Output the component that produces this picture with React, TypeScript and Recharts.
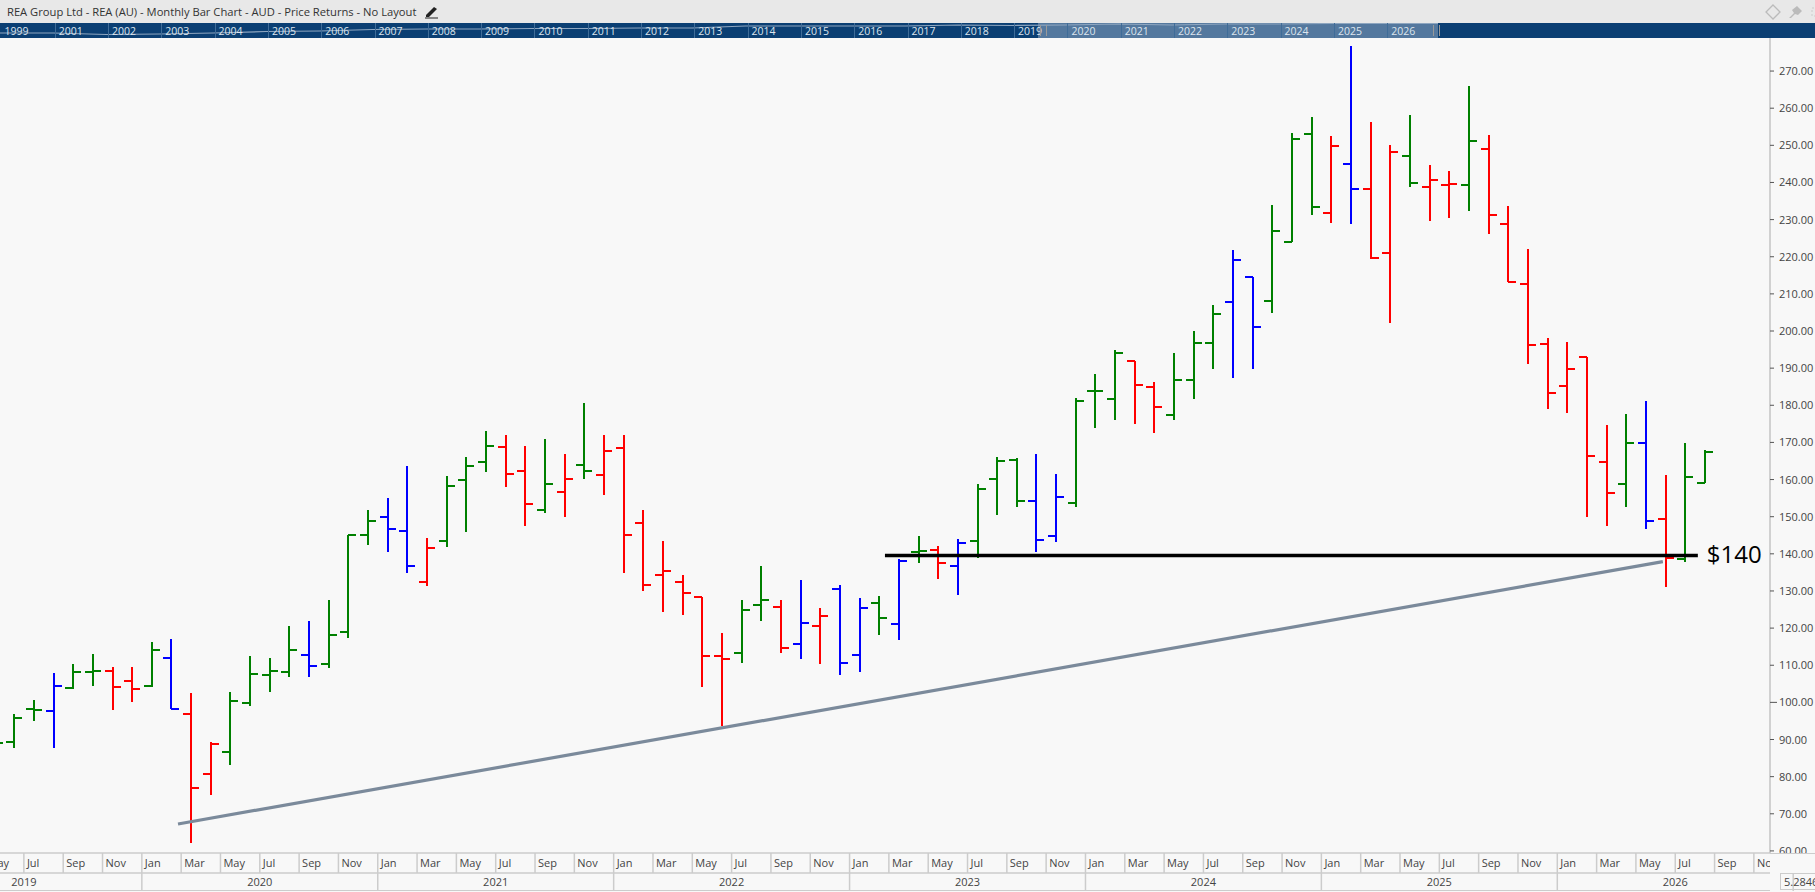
import React from 'react';
import { ComposedChart, LineChart, Line, Bar, XAxis, YAxis, ReferenceLine, ReferenceDot } from 'recharts';

// Monthly bars, May 2019 to Aug 2026
const opens = [
  88.8, 89.2, 98.2, 97.8, 103.9, 108.3, 108.4, 105.8,
  104.4, 112.0, 97.0, 80.8, 86.7, 99.7, 107.5, 108.3, 112.8, 110.4, 119.0, 145.2,
  150.0, 146.2, 132.5, 143.4, 160.0, 164.8, 168.8, 162.4, 151.9, 156.7, 164.0, 161.3,
  168.6, 148.4, 134.4, 132.5, 128.3, 112.6, 113.4, 126.3, 125.8, 115.8, 120.6, 130.6,
  112.8, 126.8, 121.2, 140.6, 141.1, 136.8, 143.5, 160.1, 165.3, 154.2, 144.8, 153.7,
  183.8, 181.7, 192.0, 185.0, 177.5, 186.9, 196.9, 207.9, 214.6, 208.2, 224.0, 253.1,
  231.9, 245.0, 238.3, 221.1, 247.2, 238.9, 239.4, 239.4, 249.1, 228.9, 212.7, 196.6,
  185.3, 193.1, 164.8, 158.9, 169.9, 149.5, 138.7, 159.2,
];
const highs = [
  90.5, 97.0, 100.6, 107.8, 110.2, 112.9, 109.4, 109.4,
  116.2, 117.0, 102.4, 89.4, 102.7, 112.4, 111.9, 120.7, 121.8, 127.5, 145.2, 151.7,
  155.0, 163.6, 144.2, 160.9, 166.2, 173.0, 171.9, 169.0, 170.8, 166.8, 180.5, 171.9,
  171.9, 151.7, 143.4, 134.2, 128.3, 118.6, 127.7, 136.6, 127.7, 132.9, 125.3, 131.5,
  128.0, 128.6, 138.5, 144.7, 142.0, 143.9, 158.7, 166.0, 165.7, 166.8, 161.4, 181.9,
  188.3, 194.8, 192.0, 186.4, 194.0, 199.9, 206.9, 221.8, 214.6, 233.8, 253.2, 257.5,
  252.4, 276.7, 256.4, 250.0, 258.3, 244.6, 243.0, 265.9, 252.9, 233.6, 222.0, 198.0,
  197.0, 193.1, 174.6, 177.6, 181.1, 161.1, 169.8, 167.9,
];
const lows = [
  86.5, 87.6, 95.1, 87.8, 103.5, 104.5, 98.0, 100.2,
  104.1, 98.1, 62.0, 75.1, 83.2, 99.1, 102.9, 106.9, 106.7, 109.3, 117.4, 142.5,
  140.6, 134.9, 131.4, 141.9, 146.0, 161.9, 158.1, 147.6, 151.1, 150.0, 160.2, 155.9,
  134.9, 130.1, 124.4, 123.6, 104.2, 93.7, 110.7, 122.0, 113.4, 111.8, 110.4, 107.5,
  108.3, 118.2, 116.9, 137.6, 133.3, 129.0, 139.0, 150.5, 152.7, 140.6, 143.3, 152.7,
  174.0, 176.1, 175.0, 172.6, 176.1, 181.8, 189.9, 187.4, 189.9, 204.9, 224.0, 231.3,
  229.2, 228.9, 219.4, 202.2, 238.9, 229.7, 230.5, 232.4, 226.2, 213.3, 191.2, 179.1,
  177.8, 150.0, 147.6, 152.7, 146.8, 131.2, 137.9, 159.0,
];
const closes = [
  89.0, 95.9, 97.9, 104.5, 108.2, 108.5, 104.2, 103.7,
  114.2, 98.2, 77.0, 88.9, 100.5, 107.7, 108.5, 114.2, 109.9, 118.2, 145.2, 148.9,
  146.8, 136.8, 141.6, 158.3, 163.7, 169.1, 161.5, 153.5, 158.8, 160.2, 162.4, 167.8,
  145.2, 131.7, 135.5, 129.5, 112.6, 111.8, 125.0, 127.7, 114.7, 121.5, 123.3, 110.7,
  125.5, 122.8, 138.2, 140.8, 137.6, 143.0, 157.4, 165.0, 154.2, 143.7, 155.3, 181.1,
  183.9, 194.2, 185.5, 179.6, 186.9, 196.9, 204.6, 219.2, 201.2, 227.0, 251.8, 233.5,
  249.9, 238.3, 219.7, 248.3, 239.9, 240.7, 239.6, 251.2, 231.3, 213.3, 196.1, 183.4,
  189.9, 166.4, 156.5, 169.9, 148.9, 139.0, 160.8, 167.3,
];
const signals = [
  'g', 'g', 'g', 'b', 'g', 'g', 'r', 'r',
  'g', 'b', 'r', 'r', 'g', 'g', 'g', 'g', 'b', 'g', 'g', 'g',
  'b', 'b', 'r', 'g', 'g', 'g', 'r', 'r', 'g', 'r', 'g', 'r',
  'r', 'r', 'r', 'r', 'r', 'r', 'g', 'g', 'r', 'b', 'r', 'b',
  'b', 'g', 'b', 'g', 'r', 'b', 'g', 'g', 'g', 'b', 'b', 'g',
  'g', 'g', 'r', 'r', 'g', 'g', 'g', 'b', 'b', 'g', 'g', 'g',
  'r', 'b', 'r', 'r', 'g', 'r', 'r', 'g', 'r', 'r', 'r', 'r',
  'r', 'r', 'r', 'g', 'b', 'r', 'g', 'g',
];
const priceTicks = [60, 70, 80, 90, 100, 110, 120, 130, 140, 150, 160, 170, 180, 190, 200, 210, 220, 230, 240, 250, 260, 270];
const monthNames = ['Jan', 'Feb', 'Mar', 'Apr', 'May', 'Jun', 'Jul', 'Aug', 'Sep', 'Oct', 'Nov', 'Dec'];
const oddMonthsFrom2019 = [4, 6, 8, 10, 12, 14, 16, 18, 20, 22, 24, 26, 28, 30, 32, 34, 36, 38, 40, 42, 44, 46, 48, 50, 52, 54, 56, 58, 60, 62, 64, 66, 68, 70, 72, 74, 76, 78, 80, 82, 84, 86, 88, 90, 92, 94];
const years = [2019, 2020, 2021, 2022, 2023, 2024, 2025, 2026];
const navYears = [1999, 2001, 2002, 2003, 2004, 2005, 2006, 2007, 2008, 2009, 2010, 2011, 2012, 2013, 2014, 2015, 2016, 2017, 2018, 2019, 2020, 2021, 2022, 2023, 2024, 2025, 2026];
const navLine = [5, 5, 3.5, 4, 5, 6.5, 7, 8.5, 9, 9, 9.5, 9.5, 10, 10, 12, 12, 12, 12, 13, 12.5, 13, 14, 13, 14, 14, 14.5, 14.5, 14.5];

const FONT = '"Open Sans", sans-serif';
const BG = '#f8f8f8';
const GRID = '#cccccc';
const SIGNAL_COLOR = { g: '#008000', r: '#ff0000', b: '#0000ff' };
const FIRST_MONTH = 4; // May 2019, months counted from Jan 2019
const X_DOMAIN = [4.285, 94.32];
const Y_DOMAIN = [59.44, 278.9];

const tableData = opens.map((open, i) => ({
  idx: FIRST_MONTH + i,
  open,
  high: highs[i],
  low: lows[i],
  close: closes[i],
  signal: signals[i],
  range: [lows[i], highs[i]],
}));

const navData = navLine.map((v, i) => ({ i, v }));

// open tick on the left, close tick on the right, stem from the range bar geometry
const OhlcBar = (props: any) => {
  const { x, y, width, height, payload } = props;
  const cx = x + width / 2;
  const top = Math.min(y, y + height);
  const h = Math.abs(height);
  const toY = (v: number) => top + ((payload.high - v) / (payload.high - payload.low)) * h;
  const color = SIGNAL_COLOR[payload.signal];
  return (
    <g stroke={color} strokeWidth={2} fill="none" shapeRendering="crispEdges">
      <line x1={cx} x2={cx} y1={top} y2={top + h} />
      <line x1={cx - 8} x2={cx} y1={toY(payload.open)} y2={toY(payload.open)} />
      <line x1={cx} x2={cx + 8} y1={toY(payload.close)} y2={toY(payload.close)} />
    </g>
  );
};

const PriceTick = (props: any) => {
  const { x, y, payload } = props;
  const long = payload.value === 100;
  return (
    <g clipPath="url(#priceClip)">
      <line x1={x} x2={x + (long ? 7 : 4)} y1={y} y2={y} stroke="#555" />
      <text x={x + 9} y={y + 4} fontSize={11} fontFamily={FONT} fill="#444">{payload.value.toFixed(2)}</text>
    </g>
  );
};

const MonthTick = (props: any) => {
  const { x, y, payload } = props;
  const month = monthNames[(payload.value + 0.5) % 12];
  return (
    <g clipPath="url(#monthClip)">
      <line x1={x} x2={x} y1={y} y2={y + 20} stroke={GRID} strokeWidth={1.5} />
      <text x={x + 3} y={y + 14} fontSize={11} fontFamily={FONT} fill="#444">{month}</text>
    </g>
  );
};

const YearTick = (props: any) => {
  const { x, y, payload } = props;
  if ((payload.value + 0.5) % 12 === 0) {
    return <line x1={x} x2={x} y1={y} y2={y + 18} stroke={GRID} strokeWidth={1.5} />;
  }
  return (
    <text x={x} y={y + 13} textAnchor="middle" fontSize={11} fontFamily={FONT} fill="#444">
      {2019 + Math.floor(payload.value / 12)}
    </text>
  );
};

const yearTicks = years.flatMap((year) => {
  const start = (year - 2019) * 12;
  return [start + 5.5, start + 11.5];
});

const Header = () => (
  <div style={{ position: 'absolute', left: 0, top: 0, width: 1815, height: 23, background: '#e8e8e8' }}>
    <span style={{ position: 'absolute', left: 7, top: 4, fontFamily: FONT, fontSize: 11.2, color: '#333', whiteSpace: 'nowrap' }}>
      REA Group Ltd - REA (AU) - Monthly Bar Chart - AUD - Price Returns - No Layout
    </span>
    <svg style={{ position: 'absolute', left: 424, top: 4 }} width={15} height={15}>
      <path d="M2 11 L10 3 L13 5 L5 13 L2 13 Z" fill="#222" />
      <line x1={1} x2={14} y1={14} y2={14} stroke="#222" />
    </svg>
    <svg style={{ position: 'absolute', left: 1765, top: 3 }} width={50} height={18}>
      <path d="M8 2 L15 9 L8 16 L1 9 Z" fill="none" stroke="#bbb" strokeWidth={1.3} />
      <path d="M24 15 L29 10 L27 7 L32 3 L37 8 L33 12 L30 11 L26 15 Z" fill="#bbb" />
      <rect x={47} y={5} width={6} height={8} fill="none" stroke="#ccc" strokeDasharray="2 2" />
    </svg>
  </div>
);

const Navigator = () => (
  <div style={{ position: 'absolute', left: 0, top: 23, width: 1815, height: 15, background: '#0b3f73', overflow: 'hidden' }}>
    <div style={{ position: 'absolute', left: 1038, top: 0, width: 400, height: 15, background: '#54789e' }} />
    <div style={{ position: 'absolute', left: 0, top: 0 }}>
      <LineChart width={1438} height={15} data={navData} margin={{ top: 0, right: 0, bottom: 0, left: 0 }}>
        <XAxis dataKey="i" hide />
        <YAxis hide domain={[0, 15]} />
        <Line dataKey="v" stroke="#8ea6c0" strokeWidth={1.2} dot={false} isAnimationActive={false} />
      </LineChart>
    </div>
    {navYears.map((year, i) => (
      <div
        key={year}
        style={{
          position: 'absolute',
          left: 1.4 + i * 53.3,
          top: 0,
          height: 15,
          paddingLeft: 3,
          borderLeft: i === 0 ? 'none' : '1px solid #3f6c98',
          fontFamily: FONT,
          fontSize: 10.5,
          lineHeight: '16px',
          color: '#dde5ee',
        }}
      >
        {year}
      </div>
    ))}
    {[1040, 1433].map((left) => (
      <div key={left} style={{ position: 'absolute', left, top: 2, width: 5, height: 11, borderLeft: '1px solid #999', borderRight: '1px solid #999' }} />
    ))}
  </div>
);

export default function App() {
  return (
    <div style={{ position: 'absolute', left: 0, top: 0, width: 1815, height: 892, background: BG, overflow: 'hidden' }}>
      <Header />
      <Navigator />
      <div style={{ position: 'absolute', left: 0, top: 38 }}>
        <ComposedChart
          width={1815}
          height={854}
          data={tableData}
          margin={{ top: 0, right: 0, bottom: 1, left: 0 }}
        >
          <defs>
            <clipPath id="priceClip">
              <rect x={1765} y={0} width={50} height={815} />
            </clipPath>
            <clipPath id="monthClip">
              <rect x={0} y={800} width={1770} height={60} />
            </clipPath>
          </defs>
          <XAxis
            xAxisId="months"
            dataKey="idx"
            type="number"
            domain={X_DOMAIN}
            allowDataOverflow
            ticks={oddMonthsFrom2019.map((m) => m - 0.5)}
            interval={0}
            height={20}
            tickSize={0}
            tickMargin={0}
            tick={MonthTick}
            tickLine={false}
            axisLine={{ stroke: GRID, strokeWidth: 1.5 }}
          />
          <XAxis
            xAxisId="years"
            dataKey="idx"
            type="number"
            domain={X_DOMAIN}
            allowDataOverflow
            ticks={yearTicks}
            interval={0}
            height={18}
            tickSize={0}
            tickMargin={0}
            tick={YearTick}
            tickLine={false}
            axisLine={{ stroke: GRID, strokeWidth: 1.5 }}
          />
          <YAxis
            orientation="right"
            width={45}
            domain={Y_DOMAIN}
            allowDataOverflow
            ticks={priceTicks}
            interval={0}
            tickSize={0}
            tickMargin={0}
            tick={PriceTick}
            tickLine={false}
            axisLine={{ stroke: '#c4c4c4', strokeWidth: 1.5 }}
          />
          <Bar xAxisId="months" dataKey="range" barSize={2} shape={OhlcBar} isAnimationActive={false} />
          <ReferenceLine
            xAxisId="months"
            segment={[{ x: 13.34, y: 67.25 }, { x: 88.87, y: 137.9 }]}
            stroke="#7b8a9b"
            strokeWidth={3.2}
          />
          <ReferenceLine
            xAxisId="months"
            segment={[{ x: 49.3, y: 139.55 }, { x: 90.65, y: 139.55 }]}
            stroke="#000"
            strokeWidth={3.4}
          />
          <ReferenceDot
            xAxisId="months"
            x={90.85}
            y={139.8}
            r={0}
            stroke="none"
            label={{ value: '$140', position: 'right', fill: '#000', fontSize: 24, fontFamily: FONT }}
          />
        </ComposedChart>
      </div>
      <div style={{ position: 'absolute', left: 0, top: 890, width: 1770, height: 1, background: GRID }} />
      <div style={{ position: 'absolute', left: 1770, top: 853, width: 45, height: 1, background: GRID }} />
      <div
        style={{
          position: 'absolute',
          left: 1780,
          top: 873,
          width: 60,
          height: 15,
          border: '1px solid #ccc',
          paddingLeft: 3,
          fontFamily: FONT,
          fontSize: 11,
          lineHeight: '15px',
          color: '#444',
        }}
      >
        5.2846
      </div>
    </div>
  );
}
